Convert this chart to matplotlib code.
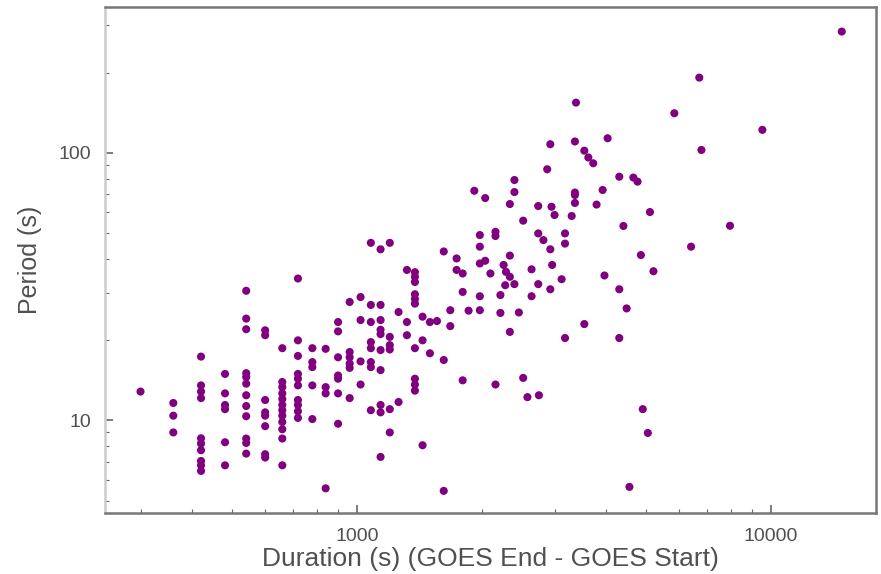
import matplotlib
matplotlib.use("Agg")
import matplotlib.pyplot as plt
from matplotlib.ticker import FixedLocator, LogLocator, NullFormatter, FuncFormatter

plt.rcParams["font.family"] = ["Liberation Sans", "DejaVu Sans"]

# Duration (s) -> list of periods (s)
durations = [
    300, 360, 420, 480, 540, 600, 660, 720, 780, 840, 900, 960, 1020, 1080,
    1140, 1200, 1260, 1320, 1380, 1440, 1500, 1560, 1620, 1680, 1740, 1800,
    1860, 1920, 1980, 2040, 2100, 2160, 2220, 2260, 2280, 2290, 2340, 2400,
    2460, 2520, 2580, 2640, 2740, 2750, 2820, 2880, 2930, 2950, 2960, 3000,
    3120, 3180, 3300, 3360, 3380, 3540, 3620, 3720, 3790, 3920, 3960, 4030,
    4300, 4400, 4480, 4550, 4650, 4760, 4850, 4900, 5040, 5100, 5200, 5840,
    6410, 6710, 6790, 7960, 9530, 14820,
]
periods = [
    [12.8],
    [11.6, 10.4, 9.0],
    [17.3, 13.5, 12.8, 12.1, 8.56, 8.18, 7.72, 7.04, 6.78, 6.46],
    [14.9, 12.6, 11.4, 11.0, 8.27, 6.78],
    [30.5, 24.0, 21.9, 15.0, 14.5, 13.7, 12.4, 11.3, 10.35, 8.54, 8.22, 7.50],
    [21.7, 20.8, 11.9, 10.7, 10.4, 9.5, 7.46, 7.25],
    [18.6, 13.9, 13.3, 12.6, 12.0, 11.4, 10.9, 10.4, 9.85, 9.25, 8.54, 6.78],
    [33.9, 19.9, 17.4, 14.9, 14.3, 13.5, 11.9, 11.4, 10.8, 10.2],
    [18.6, 16.5, 15.8, 13.5, 10.1],
    [18.5, 13.3, 12.6, 5.56],
    [23.3, 21.5, 17.2, 14.7, 14.3, 12.6, 9.7],
    [27.7, 18.0, 17.2, 16.3, 15.7, 12.1],
    [28.9, 23.7, 16.6, 13.6],
    [46.1, 27.0, 23.3, 19.6, 18.6, 16.5, 15.8, 10.9],
    [43.6, 27.0, 23.7, 21.8, 21.0, 18.3, 15.4, 11.4, 10.7, 7.29],
    [46.1, 20.5, 19.1, 18.4, 11.0, 9.0],
    [25.4, 11.7],
    [36.5, 23.3, 20.8],
    [35.8, 34.4, 32.9, 29.6, 28.4, 27.3, 18.6, 14.3, 13.6, 12.9],
    [24.4, 19.9, 8.06],
    [23.3, 17.8],
    [23.5],
    [42.8, 16.8, 5.44],
    [25.8, 22.5],
    [40.3, 36.5],
    [35.4, 30.2, 14.1],
    [25.7],
    [72.2],
    [49.3, 44.6, 38.6, 29.1, 25.8],
    [67.8, 39.5],
    [35.4],
    [50.7, 48.9, 13.6],
    [29.4, 25.2],
    [38.1],
    [32.0],
    [35.9],
    [64.4, 41.3, 34.4, 21.4],
    [79.2, 71.4, 32.3],
    [25.3],
    [55.8, 14.4],
    [12.2],
    [36.7, 29.1],
    [63.3, 50.0, 32.3],
    [12.4],
    [47.2],
    [86.9],
    [107.8, 43.6, 30.9],
    [62.9],
    [38.1],
    [58.6],
    [33.7],
    [50.0, 45.8, 20.3],
    [58.1],
    [110.4, 71.1, 69.6, 65.0],
    [154.3],
    [102.0, 22.9],
    [96.2],
    [91.5],
    [64.1],
    [72.7],
    [34.8],
    [113.5],
    [81.5, 30.9, 20.3],
    [53.3],
    [26.2],
    [5.63],
    [80.9],
    [78.1],
    [41.5],
    [11.0],
    [8.96],
    [60.1],
    [36.1],
    [140.8],
    [44.6],
    [191.4],
    [102.6],
    [53.4],
    [122.0],
    [284.6],
]

x_vals = []
y_vals = []
for d, plist in zip(durations, periods):
    for p in plist:
        x_vals.append(d)
        y_vals.append(p)

fig = plt.figure(figsize=(8.81, 5.74), dpi=100)
ax = fig.add_axes([0.119, 0.106, 0.875, 0.882])

ax.scatter(x_vals, y_vals, s=34, color="#800080", edgecolors="none", zorder=3)

ax.set_xscale("log")
ax.set_yscale("log")
ax.set_xlim(246, 17900)
ax.set_ylim(4.49, 352)

ax.xaxis.set_major_locator(FixedLocator([1000, 10000]))
ax.yaxis.set_major_locator(FixedLocator([10, 100]))
ax.xaxis.set_minor_locator(LogLocator(base=10, subs=range(2, 10)))
ax.yaxis.set_minor_locator(LogLocator(base=10, subs=range(2, 10)))
fmt = FuncFormatter(lambda v, pos: f"{int(round(v))}")
ax.xaxis.set_major_formatter(fmt)
ax.yaxis.set_major_formatter(fmt)
ax.xaxis.set_minor_formatter(NullFormatter())
ax.yaxis.set_minor_formatter(NullFormatter())

ax.tick_params(which="both", direction="in", colors="#666666",
               labelcolor="#505050", labelsize=14, top=False, right=False)
ax.tick_params(which="major", length=6, width=1.2, pad=10)
ax.tick_params(which="minor", length=3, width=0.8)
ax.tick_params(axis="x", which="major", pad=11)

for side in ["top", "right", "bottom"]:
    ax.spines[side].set_color("#777777")
    ax.spines[side].set_linewidth(1.8)
ax.spines["left"].set_color("#cccccc")
ax.spines["left"].set_linewidth(1.8)

ax.set_xlabel("Duration (s) (GOES End - GOES Start)", fontsize=19,
              color="#505050", labelpad=1)
ax.set_ylabel("Period (s)", fontsize=18, color="#505050", labelpad=12)

fig.savefig("out.png", dpi=100)
